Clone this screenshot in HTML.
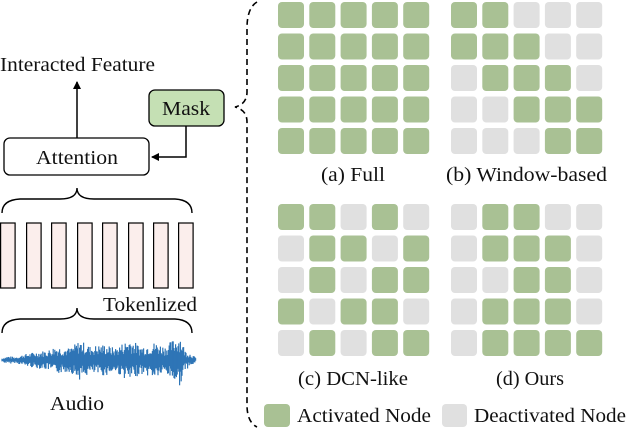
<!DOCTYPE html>
<html><head><meta charset="utf-8"><style>
html,body{margin:0;padding:0;background:#fff;width:628px;height:428px;overflow:hidden}
svg{display:block}
text{font-family:"Liberation Serif",serif;fill:#111}
</style></head><body>
<svg id="s" width="628" height="428" viewBox="0 0 628 428" xmlns="http://www.w3.org/2000/svg">
<defs><marker id="ah" markerWidth="8" markerHeight="8" refX="7" refY="4" orient="auto" markerUnits="userSpaceOnUse"><path d="M0,0 L8,4 L0,8 Z" fill="#000"/></marker></defs>
<g id="grids"></g>
<text x="321" y="181" font-size="20" textLength="64" lengthAdjust="spacingAndGlyphs">(a) Full</text>
<text x="446" y="181" font-size="20" textLength="161" lengthAdjust="spacingAndGlyphs">(b) Window-based</text>
<text x="298" y="385" font-size="20" textLength="110" lengthAdjust="spacingAndGlyphs">(c) DCN-like</text>
<text x="496" y="385" font-size="20" textLength="68" lengthAdjust="spacingAndGlyphs">(d) Ours</text>
<rect x="264" y="404" width="26" height="23" rx="4" fill="#a9c194"/>
<text x="297" y="422" font-size="20" textLength="134" lengthAdjust="spacingAndGlyphs">Activated Node</text>
<rect x="442" y="404" width="25" height="23" rx="4" fill="#e0e0e0"/>
<text x="474" y="422" font-size="20" textLength="152" lengthAdjust="spacingAndGlyphs">Deactivated Node</text>
<path d="M257,2 Q247,8 247,28 L247,92 Q247,104 235,107 Q247,110 247,122 L247,405 Q247,422 257,427" fill="none" stroke="#000" stroke-width="1.6" stroke-dasharray="6,4"/>
<text x="0" y="71" font-size="20" textLength="155" lengthAdjust="spacingAndGlyphs">Interacted Feature</text>
<line x1="77" y1="138" x2="77" y2="82" stroke="#000" stroke-width="1.5" marker-end="url(#ah)"/>
<rect x="4" y="138" width="145" height="37" rx="6" fill="#fff" stroke="#000" stroke-width="1.3"/>
<text x="77" y="164" font-size="20" text-anchor="middle" textLength="82" lengthAdjust="spacingAndGlyphs">Attention</text>
<rect x="149" y="90" width="75" height="36" rx="6" fill="#c5e0b4" stroke="#000" stroke-width="1.3"/>
<text x="186" y="115" font-size="20" text-anchor="middle" textLength="48" lengthAdjust="spacingAndGlyphs">Mask</text>
<path d="M186,126 L186,157 L152,157" fill="none" stroke="#000" stroke-width="1.5" marker-end="url(#ah)"/>
<path d="M2,213 Q2,200 20,199 L60,199 Q77,199 77,188 Q77,199 94,199 L175,199 Q192,200 192,213" fill="none" stroke="#000" stroke-width="1.4"/>
<g id="tok" fill="#fbeeec" stroke="#000" stroke-width="1.2"></g>
<text x="103" y="311" font-size="20" textLength="94" lengthAdjust="spacingAndGlyphs">Tokenlized</text>
<path d="M2,333 Q2,320 20,319 L60,319 Q77,319 77,308 Q77,319 94,319 L175,319 Q192,320 192,333" fill="none" stroke="#000" stroke-width="1.4"/>
<g id="wave" stroke="#2e75b6" stroke-width="1.2"></g>
<text x="77" y="410" font-size="20" text-anchor="middle" textLength="54" lengthAdjust="spacingAndGlyphs">Audio</text>
</svg>
<script>
var NS="http://www.w3.org/2000/svg";
function el(t,a,p){var e=document.createElementNS(NS,t);for(var k in a)e.setAttribute(k,a[k]);p.appendChild(e);return e;}
var g=document.getElementById("grids");
var pats=[
["GGGGG","GGGGG","GGGGG","GGGGG","GGGGG"],
["GG___","GGG__","_GGG_","__GGG","___GG"],
["GG_G_","_GG_G","_G_GG","G_GG_","_G_GG"],
["_GG__","_GGG_","__GG_","_GGG_","_GGGG"]];
var ox=[278,451,278,451],oy=[2,2,204,204];
for(var p=0;p<4;p++)for(var r=0;r<5;r++)for(var c=0;c<5;c++){
el("rect",{x:ox[p]+c*31.3,y:oy[p]+r*31.5,width:26,height:26,rx:4,fill:pats[p][r][c]=="G"?"#a9c194":"#e0e0e0"},g);}
var t=document.getElementById("tok");
[0,26,51,77,102,128,153,178].forEach(function(x){el("rect",{x:x+0.6,y:223,width:14.5,height:65},t);});
var w=document.getElementById("wave");var seed=7;function rnd(){seed=(seed*9301+49297)%233280;return seed/233280;}
var env=[[2,2],[8,4],[15,3],[25,6],[35,8],[48,10],[55,14],[70,12],[80,20],[90,14],[105,16],[115,12],[130,22],[140,14],[155,18],[165,14],[180,26],[185,10],[192,6],[196,2]];
function E(x){for(var i=1;i<env.length;i++){if(x<=env[i][0]){var a=env[i-1],b=env[i];return a[1]+(b[1]-a[1])*(x-a[0])/(b[0]-a[0]);}}return 2;}
for(var x=2;x<196;x+=0.8){var e=E(x);var a=e*(0.3+0.7*rnd());var b=e*(0.3+0.7*rnd());
el("line",{x1:x,y1:360-a,x2:x,y2:360+b},w);}
</script>
</body></html>
